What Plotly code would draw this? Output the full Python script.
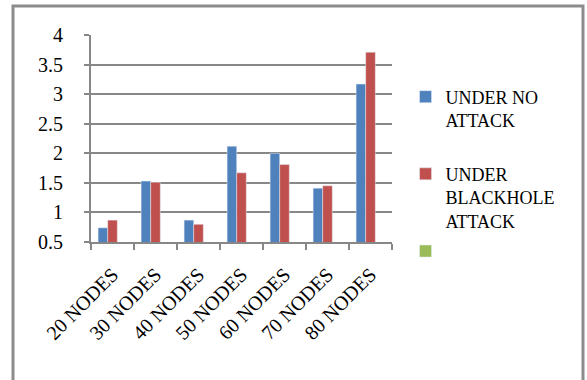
import plotly.graph_objects as go

categories = ["20 NODES", "30 NODES", "40 NODES", "50 NODES", "60 NODES", "70 NODES", "80 NODES"]
under_no_attack = [0.74, 1.53, 0.87, 2.12, 2.00, 1.41, 3.17]
under_blackhole_attack = [0.87, 1.51, 0.80, 1.67, 1.81, 1.45, 3.71]
third_series = [None] * len(categories)

W, H = 587, 380
L, R, T, B = 91, 195, 35, 138
FONT = "'Liberation Serif', 'Times New Roman', Times, serif"
GRID = "#878787"

fig = go.Figure()
fig.add_trace(go.Bar(x=categories, y=under_no_attack, name="UNDER NO<br>ATTACK<br> ",
                     marker_color="#4F81BD", legendgroup="a"))
fig.add_trace(go.Bar(x=categories, y=under_blackhole_attack, name="UNDER<br>BLACKHOLE<br>ATTACK",
                     marker_color="#C0504D", legendgroup="b"))
fig.add_trace(go.Bar(x=categories, y=third_series, name=" ",
                     marker_color="#9BBB59", legendgroup="c", showlegend=True))

pw = W - L - R
ph = H - T - B
# outer frame around the whole chart
fig.add_shape(type="rect", xref="paper", yref="paper",
              x0=(13 - L) / pw, x1=(583 - L) / pw,
              y0=1 + (T - 6) / ph, y1=-(H + 10 - T - ph) / ph,
              line=dict(color="#8C8C8C", width=3), fillcolor="rgba(0,0,0,0)", layer="below")

fig.update_layout(
    width=W, height=H,
    margin=dict(l=L, r=R, t=T, b=B),
    paper_bgcolor="white", plot_bgcolor="white",
    barmode="group", bargap=0.33, bargroupgap=0,
    font=dict(family=FONT, size=20, color="black"),
    showlegend=True,
    legend=dict(x=1.045, y=0.79, xanchor="left", yanchor="top",
                font=dict(family=FONT, size=18, color="black"),
                tracegroupgap=4, valign="top", itemwidth=30, maxheight=400,
                bgcolor="rgba(0,0,0,0)"),
)
fig.update_xaxes(
    type="category", showgrid=False, showline=True, linecolor=GRID, linewidth=2,
    ticks="outside", tickson="boundaries", ticklen=6, tickcolor=GRID, tickwidth=2,
    tickangle=-45, tickfont=dict(family=FONT, size=20, color="black"),
    ticklabelstandoff=11, mirror=False,
)
fig.update_yaxes(
    range=[0.5, 4], dtick=0.5, tick0=0.5, showgrid=True, gridcolor=GRID, gridwidth=2,
    showline=True, linecolor=GRID, linewidth=2, ticks="outside", ticklen=5,
    tickcolor=GRID, tickwidth=2, zeroline=False,
    tickfont=dict(family=FONT, size=20, color="black"), ticklabelstandoff=17,
)

fig.write_html("out.html")
